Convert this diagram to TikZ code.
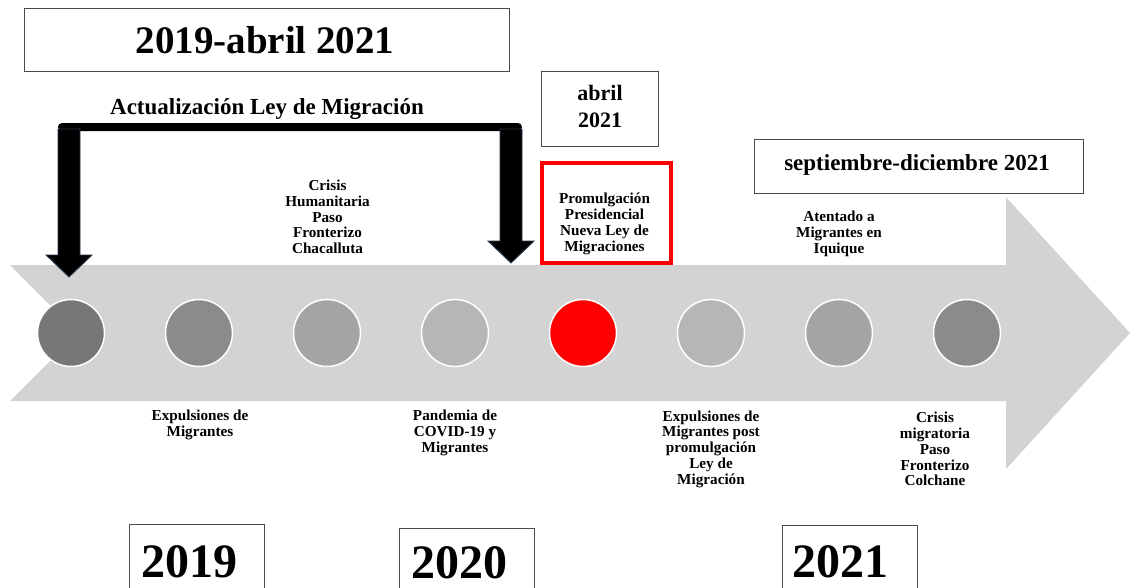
\documentclass[tikz,border=0pt]{standalone}
\usepackage{fontspec}
\setmainfont{Liberation Serif}
\definecolor{band}{HTML}{D3D3D3}
\definecolor{boxgray}{HTML}{4A4A4A}
\definecolor{edgeblue}{HTML}{2B3A4F}
\definecolor{gA}{HTML}{777777}
\definecolor{gB}{HTML}{8B8B8B}
\definecolor{gC}{HTML}{A4A4A4}
\definecolor{gD}{HTML}{B6B6B6}
\tikzset{
  lbl/.style={align=center, font=\fontsize{15.2}{15.8}\selectfont\bfseries, inner sep=0pt},
  dot/.style={circle, draw=white, line width=1.5pt, minimum size=67pt, inner sep=0pt},
  datebox/.style={draw=boxgray, line width=0.8pt, inner sep=0pt, align=center},
  yearbox/.style={datebox, minimum width=135pt, minimum height=80pt},
  yeartext/.style={font=\fontsize{48}{48}\selectfont\bfseries, inner sep=0pt, anchor=base},
  downarrow/.style={fill=black, draw=edgeblue, line width=0.9pt, line join=miter}
}
\begin{document}
\begin{tikzpicture}[x=1pt,y=-1pt]
\useasboundingbox (0,0) rectangle (1130,587);
% big timeline arrow
\fill[band] (10,265) -- (1006,265) -- (1006,197) -- (1130,333) -- (1006,469) -- (1006,401) -- (10,401) -- (78,333) -- cycle;
% circles
\node[dot, fill=gA] (c1) at (71,333) {};
\node[dot, fill=gB] (c2) at (199,333) {};
\node[dot, fill=gC] (c3) at (327,333) {};
\node[dot, fill=gD] (c4) at (455,333) {};
\node[dot, fill=red] (c5) at (583,333) {};
\node[dot, fill=gD] (c6) at (711,333) {};
\node[dot, fill=gC] (c7) at (839,333) {};
\node[dot, fill=gB] (c8) at (967,333) {};
% top title box
\node[datebox, minimum width=485pt, minimum height=63pt] (title) at (267,39.5) {};
\node[font=\fontsize{39}{39}\selectfont\bfseries, inner sep=0pt, anchor=base] (titletext) at (265,53) {2019-abril 2021};
\node[font=\fontsize{23}{23}\selectfont\bfseries, inner sep=0pt, anchor=base] (ley) at (267,114) {Actualización Ley de Migración};
% bracket with two down arrows
\fill[black, rounded corners=4pt] (58,123) rectangle (522,131);
\draw[downarrow] (58,129) -- (80,129) -- (80,255) -- (92,255) -- (69,277) -- (46,255) -- (58,255) -- cycle;
\draw[downarrow] (500,129) -- (522,129) -- (522,241) -- (534,241) -- (511,263) -- (488,241) -- (500,241) -- cycle;
% date boxes
\node[datebox, minimum width=117pt, minimum height=75pt] (abril) at (599.5,108.5) {};
\node[align=center, inner sep=0pt, font=\fontsize{22}{27}\selectfont\bfseries] (abriltext) at (600,106) {abril\\2021};
\node[datebox, minimum width=329pt, minimum height=54pt] (sept) at (918.5,166) {};
\node[font=\fontsize{23}{23}\selectfont\bfseries, inner sep=0pt, anchor=base] (septtext) at (917,170) {septiembre-diciembre 2021};
\node[draw=red, line width=4pt, minimum width=129pt, minimum height=100pt, inner sep=0pt] (redbox) at (606,213) {};
\node[lbl] (promo) at (604.5,224) {Promulgación\\Presidencial\\Nueva Ley de\\Migraciones};
% labels above
\node[lbl] (chac) at (327.5,217) {Crisis\\Humanitaria\\Paso\\Fronterizo\\Chacalluta};
\node[lbl] (iqui) at (839,234) {Atentado a\\Migrantes en\\Iquique};
% labels below
\node[lbl] (exp1) at (200,425) {Expulsiones de\\Migrantes};
\node[lbl] (covid) at (455,433) {Pandemia de\\COVID-19 y\\Migrantes};
\node[lbl] (exp2) at (711,449) {Expulsiones de\\Migrantes post\\promulgación\\Ley de\\Migración};
\node[lbl] (colch) at (935,449) {Crisis\\migratoria\\Paso\\Fronterizo\\Colchane};
% year boxes (open at the bottom edge)
\node[yearbox] (y2019) at (196.5,564) {};
\node[yearbox] (y2020) at (466.5,568) {};
\node[yearbox] (y2021) at (849.5,565) {};
\node[yeartext] (t2019) at (189,577) {2019};
\node[yeartext] (t2020) at (459,578) {2020};
\node[yeartext] (t2021) at (840,577) {2021};
\end{tikzpicture}
\end{document}
